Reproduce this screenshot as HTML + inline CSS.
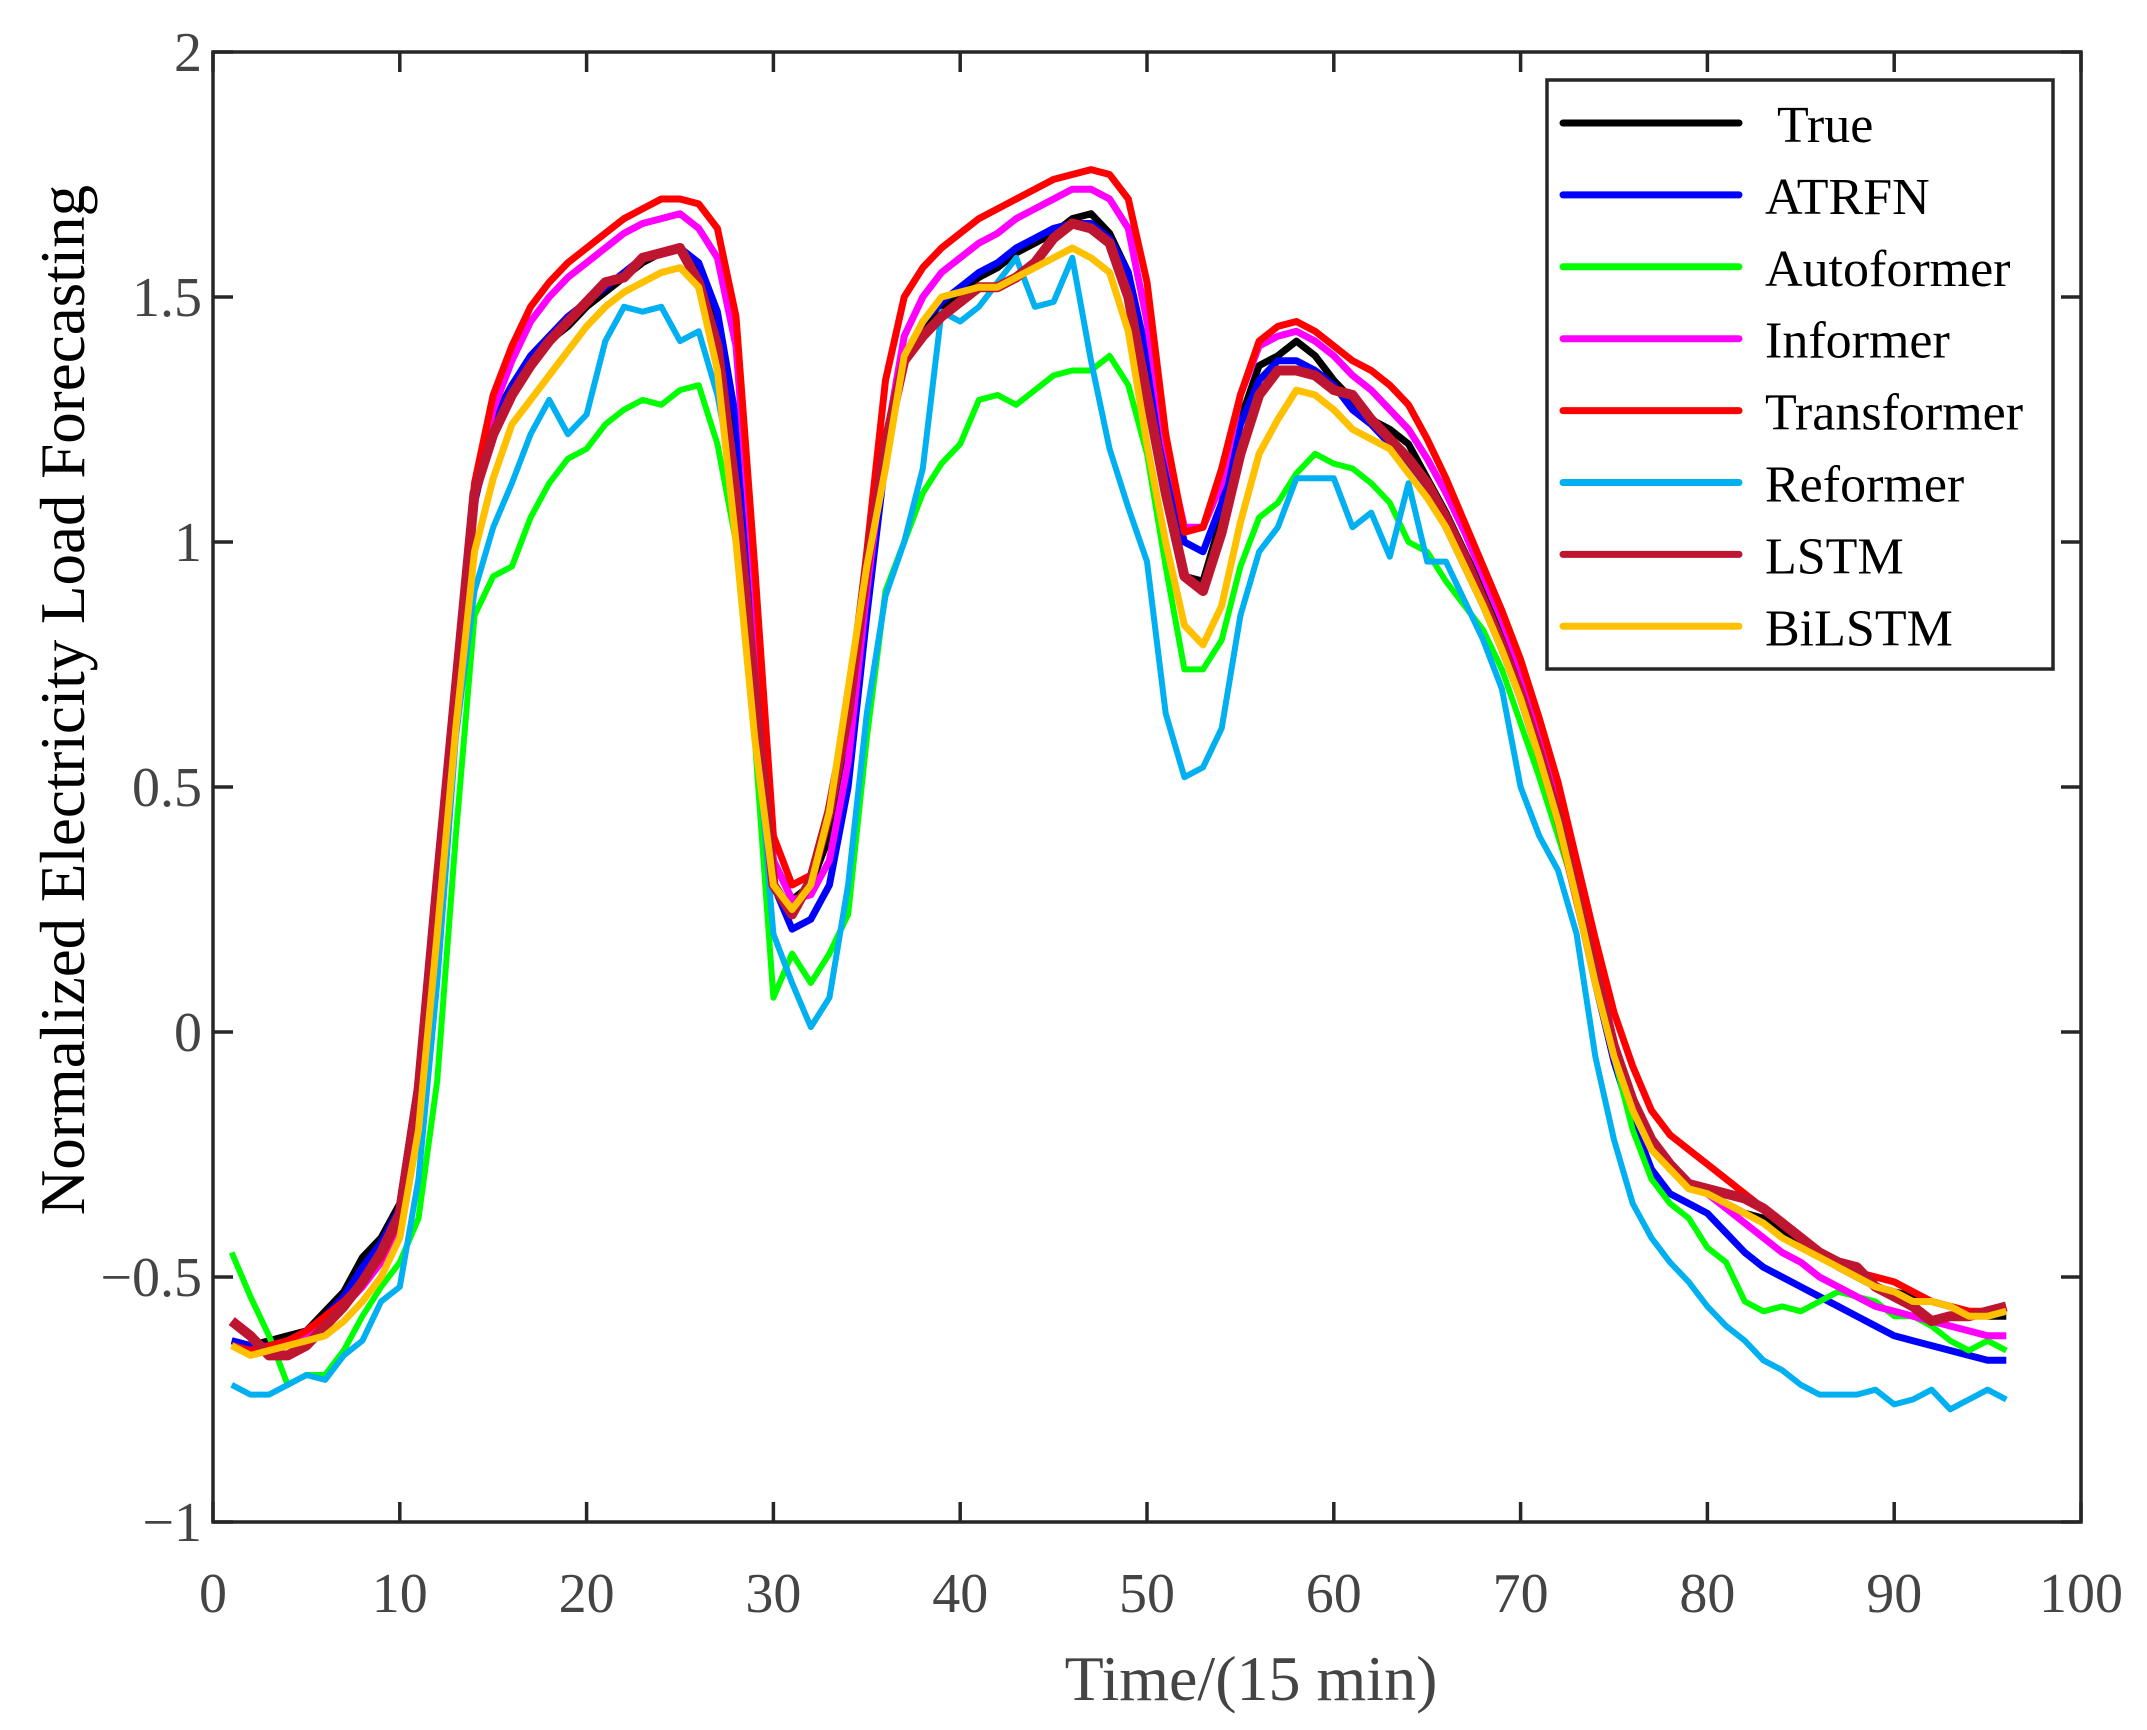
<!DOCTYPE html>
<html><head><meta charset="utf-8"><style>
html,body{margin:0;padding:0;background:#fff;}
svg{display:block;font-family:"Liberation Serif","Times New Roman",serif;}
</style></head><body>
<svg id="chart" width="2147" height="1730" viewBox="0 0 2147 1730" xmlns="http://www.w3.org/2000/svg">
<rect width="2147" height="1730" fill="#fff"/>
<g id="series"></g>
<g id="axes"></g>
<g id="legend"></g>
</svg>
<script>
const xTicks = [0,10,20,30,40,50,60,70,80,90,100];
const yTicks = [-1,-0.5,0,0.5,1,1.5,2];
const yTickLabels = ["\u22121","\u22120.5","0","0.5","1","1.5","2"];
const seriesNames = ["True","ATRFN","Autoformer","Informer","Transformer","Reformer","LSTM","BiLSTM"];
const seriesColors = ["#000000","#0000ff","#00ff00","#ff00ff","#ff0000","#00b0f0","#be1531","#ffc000"];
const seriesWidths = [7,7,6,7,7,6,10,7];
const trueVals = [-0.63,-0.64,-0.63,-0.62,-0.61,-0.57,-0.53,-0.46,-0.42,-0.35,-0.1,0.3,0.7,1.1,1.25,1.32,1.37,1.41,1.44,1.48,1.51,1.54,1.57,1.59,1.6,1.56,1.45,1.2,0.8,0.35,0.27,0.3,0.4,0.6,0.9,1.2,1.37,1.44,1.48,1.51,1.54,1.56,1.59,1.61,1.63,1.66,1.67,1.63,1.55,1.35,1.1,0.93,0.92,1.05,1.25,1.36,1.38,1.41,1.38,1.33,1.29,1.25,1.23,1.2,1.13,1.06,0.98,0.9,0.81,0.72,0.6,0.47,0.3,0.13,-0.03,-0.15,-0.23,-0.28,-0.31,-0.33,-0.35,-0.37,-0.38,-0.41,-0.43,-0.45,-0.48,-0.5,-0.52,-0.53,-0.54,-0.55,-0.56,-0.57,-0.58,-0.58];
const atrfnVals = [-0.63,-0.64,-0.64,-0.63,-0.61,-0.58,-0.54,-0.48,-0.43,-0.36,-0.12,0.28,0.68,1.08,1.24,1.32,1.38,1.42,1.46,1.49,1.52,1.55,1.58,1.59,1.6,1.57,1.47,1.25,0.85,0.3,0.21,0.23,0.3,0.5,0.85,1.17,1.37,1.45,1.49,1.52,1.55,1.57,1.6,1.62,1.64,1.65,1.65,1.62,1.55,1.38,1.15,1.0,0.98,1.08,1.24,1.33,1.37,1.37,1.35,1.32,1.27,1.24,1.2,1.16,1.1,1.03,0.95,0.87,0.78,0.68,0.56,0.43,0.27,0.1,-0.06,-0.18,-0.28,-0.33,-0.35,-0.37,-0.41,-0.45,-0.48,-0.5,-0.52,-0.54,-0.56,-0.58,-0.6,-0.62,-0.63,-0.64,-0.65,-0.66,-0.67,-0.67];
const autoformerVals = [-0.45,-0.54,-0.62,-0.72,-0.7,-0.7,-0.65,-0.58,-0.52,-0.47,-0.38,-0.1,0.4,0.85,0.93,0.95,1.05,1.12,1.17,1.19,1.24,1.27,1.29,1.28,1.31,1.32,1.2,1.0,0.6,0.07,0.16,0.1,0.16,0.24,0.6,0.9,1.0,1.1,1.16,1.2,1.29,1.3,1.28,1.31,1.34,1.35,1.35,1.38,1.32,1.18,0.95,0.74,0.74,0.8,0.95,1.05,1.08,1.14,1.18,1.16,1.15,1.12,1.08,1.0,0.98,0.92,0.87,0.82,0.74,0.63,0.52,0.4,0.28,0.12,-0.05,-0.2,-0.3,-0.35,-0.38,-0.44,-0.47,-0.55,-0.57,-0.56,-0.57,-0.55,-0.53,-0.54,-0.55,-0.58,-0.58,-0.6,-0.63,-0.65,-0.63,-0.65];
const informerVals = [-0.64,-0.65,-0.65,-0.63,-0.62,-0.59,-0.56,-0.52,-0.47,-0.4,-0.2,0.2,0.65,1.1,1.27,1.37,1.45,1.5,1.54,1.57,1.6,1.63,1.65,1.66,1.67,1.64,1.58,1.4,0.9,0.35,0.27,0.28,0.35,0.55,0.9,1.2,1.42,1.5,1.55,1.58,1.61,1.63,1.66,1.68,1.7,1.72,1.72,1.7,1.64,1.45,1.2,1.03,1.03,1.12,1.3,1.4,1.42,1.43,1.41,1.38,1.34,1.31,1.27,1.23,1.17,1.1,1.02,0.93,0.84,0.74,0.62,0.49,0.32,0.15,-0.02,-0.14,-0.23,-0.28,-0.31,-0.33,-0.36,-0.39,-0.42,-0.45,-0.47,-0.5,-0.52,-0.54,-0.56,-0.57,-0.58,-0.59,-0.6,-0.61,-0.62,-0.62];
const transformerVals = [-0.64,-0.65,-0.64,-0.63,-0.61,-0.58,-0.55,-0.51,-0.46,-0.38,-0.15,0.3,0.7,1.12,1.3,1.4,1.48,1.53,1.57,1.6,1.63,1.66,1.68,1.7,1.7,1.69,1.64,1.46,0.95,0.4,0.3,0.32,0.45,0.65,0.98,1.33,1.5,1.56,1.6,1.63,1.66,1.68,1.7,1.72,1.74,1.75,1.76,1.75,1.7,1.53,1.22,1.02,1.03,1.15,1.3,1.41,1.44,1.45,1.43,1.4,1.37,1.35,1.32,1.28,1.21,1.13,1.04,0.95,0.86,0.76,0.64,0.51,0.35,0.19,0.04,-0.07,-0.16,-0.21,-0.24,-0.27,-0.3,-0.33,-0.36,-0.39,-0.42,-0.45,-0.47,-0.49,-0.5,-0.51,-0.53,-0.55,-0.56,-0.57,-0.57,-0.57];
const reformerVals = [-0.72,-0.74,-0.74,-0.72,-0.7,-0.71,-0.66,-0.63,-0.55,-0.52,-0.3,0.1,0.6,0.9,1.03,1.12,1.22,1.29,1.22,1.26,1.41,1.48,1.47,1.48,1.41,1.43,1.3,1.1,0.65,0.2,0.1,0.01,0.07,0.3,0.65,0.89,1.0,1.15,1.47,1.45,1.48,1.53,1.58,1.48,1.49,1.58,1.37,1.19,1.07,0.96,0.65,0.52,0.54,0.62,0.85,0.98,1.03,1.13,1.13,1.13,1.03,1.06,0.97,1.12,0.96,0.96,0.88,0.8,0.7,0.5,0.4,0.33,0.2,-0.05,-0.22,-0.35,-0.42,-0.47,-0.51,-0.56,-0.6,-0.63,-0.67,-0.69,-0.72,-0.74,-0.74,-0.74,-0.73,-0.76,-0.75,-0.73,-0.77,-0.75,-0.73,-0.75];
const lstmVals = [-0.59,-0.62,-0.66,-0.66,-0.64,-0.6,-0.56,-0.51,-0.45,-0.37,-0.12,0.3,0.7,1.1,1.22,1.3,1.36,1.41,1.45,1.49,1.53,1.54,1.58,1.59,1.6,1.53,1.4,1.1,0.7,0.3,0.24,0.31,0.45,0.65,0.95,1.2,1.37,1.42,1.46,1.49,1.52,1.52,1.54,1.57,1.62,1.65,1.64,1.61,1.5,1.3,1.1,0.93,0.9,1.02,1.18,1.3,1.35,1.35,1.34,1.31,1.3,1.25,1.21,1.17,1.12,1.05,0.97,0.88,0.79,0.69,0.57,0.44,0.28,0.12,-0.03,-0.14,-0.22,-0.27,-0.31,-0.32,-0.33,-0.34,-0.36,-0.39,-0.42,-0.45,-0.47,-0.48,-0.52,-0.54,-0.56,-0.59,-0.58,-0.58,-0.57,-0.56];
const bilstmVals = [-0.64,-0.66,-0.65,-0.64,-0.63,-0.62,-0.59,-0.55,-0.5,-0.42,-0.2,0.2,0.62,0.98,1.13,1.24,1.29,1.34,1.39,1.44,1.48,1.51,1.53,1.55,1.56,1.52,1.35,1.0,0.6,0.3,0.25,0.3,0.45,0.7,0.95,1.15,1.38,1.45,1.5,1.51,1.52,1.52,1.54,1.56,1.58,1.6,1.58,1.55,1.43,1.2,1.0,0.83,0.79,0.87,1.04,1.18,1.25,1.31,1.3,1.27,1.23,1.21,1.19,1.14,1.09,1.03,0.95,0.87,0.78,0.68,0.56,0.43,0.27,0.1,-0.05,-0.16,-0.24,-0.28,-0.32,-0.33,-0.35,-0.37,-0.39,-0.42,-0.44,-0.46,-0.48,-0.5,-0.52,-0.53,-0.55,-0.55,-0.56,-0.58,-0.58,-0.57];
const allSeries = [trueVals,atrfnVals,autoformerVals,informerVals,transformerVals,reformerVals,lstmVals,bilstmVals];

const NS = "http://www.w3.org/2000/svg";
const L = 213, R = 2081, T = 52, B = 1522;
const xMin = 0, xMax = 100, yMin = -1, yMax = 2;
function xs(v){ return L + (v - xMin) / (xMax - xMin) * (R - L); }
function ys(v){ return B - (v - yMin) / (yMax - yMin) * (B - T); }
function mk(tag, attrs, parent){ const e = document.createElementNS(NS, tag); for (const k in attrs) e.setAttribute(k, attrs[k]); parent.appendChild(e); return e; }

const gS = document.getElementById('series');
allSeries.forEach((vals, si) => {
  const d = vals.map((v, i) => (i ? 'L' : 'M') + xs(i + 1).toFixed(1) + ',' + ys(v).toFixed(1)).join(' ');
  const p = mk('path', {d: d, fill: 'none', stroke: seriesColors[si], 'stroke-width': seriesWidths[si], 'stroke-linejoin': 'round'}, gS);
  
  
});

const gA = document.getElementById('axes');
const frame = mk('rect', {x: L, y: T, width: R - L, height: B - T, fill: 'none', stroke: '#262626', 'stroke-width': 3.5}, gA);


xTicks.forEach(v => {
  const x = xs(v);
  mk('line', {x1: x, y1: B, x2: x, y2: B - 20, stroke: '#262626', 'stroke-width': 3.5}, gA);
  mk('line', {x1: x, y1: T, x2: x, y2: T + 20, stroke: '#262626', 'stroke-width': 3.5}, gA);
  const t = mk('text', {x: x, y: 1612, 'text-anchor': 'middle', 'font-size': 56, fill: '#444'}, gA);
  t.textContent = String(v);
  
  
});
yTicks.forEach((v, i) => {
  const y = ys(v);
  mk('line', {x1: L, y1: y, x2: L + 20, y2: y, stroke: '#262626', 'stroke-width': 3.5}, gA);
  mk('line', {x1: R, y1: y, x2: R - 20, y2: y, stroke: '#262626', 'stroke-width': 3.5}, gA);
  const t = mk('text', {x: 202, y: y + 19, 'text-anchor': 'end', 'font-size': 56, fill: '#444'}, gA);
  t.textContent = yTickLabels[i];
  
  
});
const xt = mk('text', {x: 1251, y: 1700, 'text-anchor': 'middle', 'font-size': 64, fill: '#444'}, gA);
xt.textContent = 'Time/(15 min)';


const yt = mk('text', {x: 0, y: 0, 'text-anchor': 'middle', 'font-size': 63, fill: '#000', transform: 'translate(84,700) rotate(-90)'}, gA);
yt.textContent = 'Normalized Electricity Load Forecasting';



const gL = document.getElementById('legend');
const lb = mk('rect', {x: 1547, y: 80, width: 506, height: 589, fill: '#fff', stroke: '#262626', 'stroke-width': 3.5}, gL);


seriesNames.forEach((n, i) => {
  const y = 123 + i * 71.9;
  const g = mk('g', {}, gL);
  
  
  mk('line', {x1: 1563, y1: y, x2: 1739, y2: y, stroke: seriesColors[i], 'stroke-width': 7, 'stroke-linecap': 'round'}, g);
  const t = mk('text', {x: i === 0 ? 1777 : 1765, y: y + 19, 'font-size': 52, fill: '#000'}, g);
  t.textContent = n;
});
</script>
</body></html>
